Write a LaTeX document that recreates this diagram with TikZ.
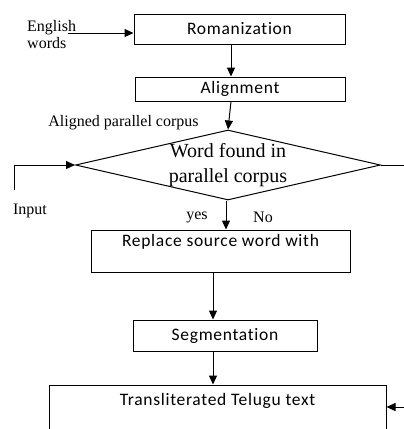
\documentclass[tikz,border=0pt]{standalone}
\usepackage{fontspec}
\setmainfont{Liberation Serif}
\newfontfamily\boxfont[LetterSpace=4,Ligatures=NoCommon]{Carlito}
\usetikzlibrary{arrows.meta,shapes.geometric}

\begin{document}
\begin{tikzpicture}[x=1pt,y=-1pt,
	box/.style={draw,line width=1pt,inner sep=0pt,font=\boxfont\fontsize{17.5}{21}\selectfont,align=center},
	decision/.style={draw,diamond,line width=1pt,inner sep=0pt,minimum width=305pt,minimum height=70pt,aspect=4.36},
	lbl/.style={font=\fontsize{16}{17}\selectfont,inner sep=0pt},
	arr/.style={line width=1pt,-{Triangle[length=9pt,width=8pt]}},
	ln/.style={line width=1pt}]
	\useasboundingbox (0,0) rectangle (404,429);
	\clip (0,0) rectangle (404,429);
	\node[box,minimum width=211pt,minimum height=30pt] at (239.5,29) (roman) {Romanization};
	\node[box,minimum width=210pt,minimum height=24pt] at (240,89) (align) {Alignment};
	\node[decision,label={[font=\fontsize{20}{25}\selectfont,align=center]center:Word found in\\parallel corpus}] at (228,165) (find) {};
	\node[box,minimum width=259pt,minimum height=42pt] at (220.5,251) (repl) {Replace source word with\\\mbox{}};
	\node[box,minimum width=184pt,minimum height=31pt] at (225,335.5) (seg) {Segmentation};
	\node[box,minimum width=337pt,minimum height=50pt] at (217.5,410) (trans) {Transliterated Telugu text\\\mbox{}};
	\node[lbl,align=left,anchor=west] at (27,35) (eng) {English\\words};
	\node[lbl] at (123.5,123) (apc) {Aligned parallel corpus};
	\node[lbl] at (30,211) (inp) {Input};
	\node[lbl] at (197,217) (yes) {yes};
	\node[lbl] at (263,217) (no) {No};
	\coordinate (engin) at (68,33);
	\coordinate (inbot) at (14,190);
	\coordinate (rexit) at (404,165);
	\coordinate (tin) at (404,407);
	\coordinate (upaxis) at (231,0);
	\coordinate (midaxis) at (226,0);
	\coordinate (lowaxis) at (213,0);
	\draw[arr] (engin) -- (engin -| roman.west);
	\draw[arr] (roman.south -| upaxis) -- (align.north -| upaxis);
	\draw[arr] (align.south -| upaxis) -- (find.north);
	\draw[arr] (inbot) |- (find.west);
	\draw[ln] (find.east) -- (rexit);
	\draw[arr] (find.south -| midaxis) -- (repl.north -| midaxis);
	\draw[arr] (repl.south -| lowaxis) -- (seg.north -| lowaxis);
	\draw[arr] (seg.south -| lowaxis) -- (trans.north -| lowaxis);
	\draw[arr] (tin) -- (tin -| trans.east);
\end{tikzpicture}
\end{document}
